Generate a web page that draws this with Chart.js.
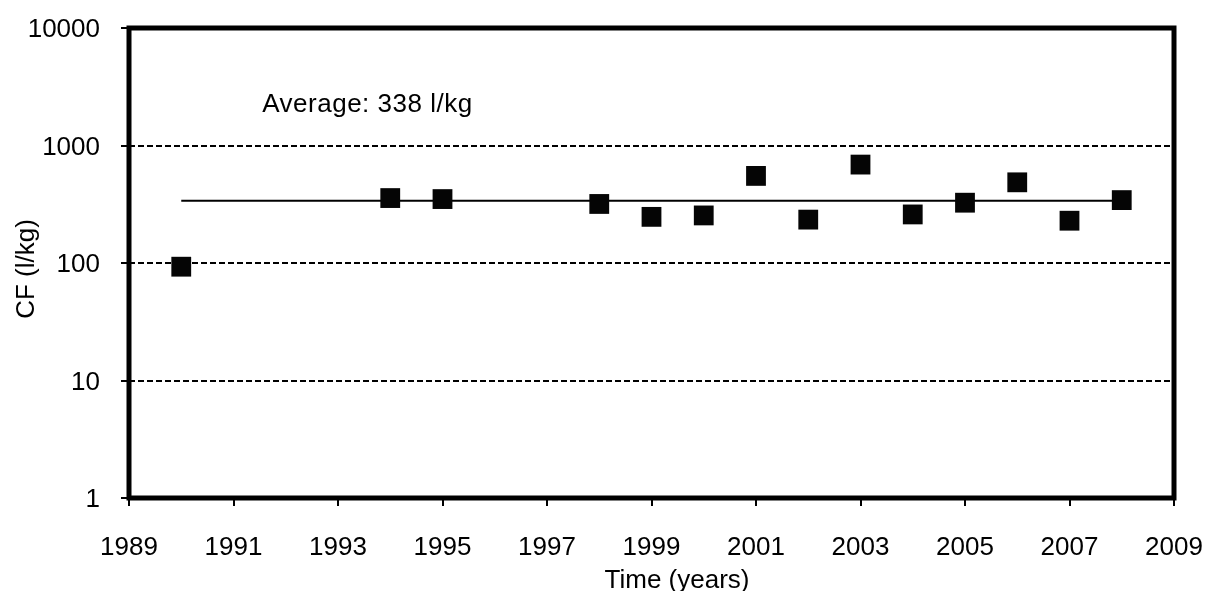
<!DOCTYPE html>
<html lang="en">
<head>
    <meta charset="UTF-8">
    <title>CF over time</title>
    <script src="https://cdn.jsdelivr.net/npm/chart.js"></script>
    <style>
        html, body { margin: 0; padding: 0; background: #fff; }
        #wrap { width: 1209px; height: 591px; }
    </style>
</head>
<body>
    <div id="wrap"><canvas id="chartCanvas"></canvas></div>

    <script>
        // data
        const years = [1990, 1994, 1995, 1998, 1999, 2000, 2001, 2002, 2003, 2004, 2005, 2006, 2007, 2008];
        const cfValues = [93, 357, 350, 318, 247, 254, 551, 234, 688, 259, 326, 486, 229, 343];
        const averageValue = 338;
        const averageSpan = [1990, 2008];
        const xTicks = [1989, 1991, 1993, 1995, 1997, 1999, 2001, 2003, 2005, 2007, 2009];
        const yTicks = [1, 10, 100, 1000, 10000];
        const noteText = 'Average: 338 l/kg';
        const notePos = { x: 1991.55, y: 2200 };
        const xTitle = 'Time (years)';
        const yTitle = 'CF (l/kg)';

        const font = "'Liberation Sans', Arial, sans-serif";

        // box around the plot, the average note and both axis titles
        const frameAndNote = {
            id: 'frameAndNote',
            afterDatasetsDraw(chart) {
                const { ctx, chartArea: a, scales } = chart;
                ctx.save();
                ctx.strokeStyle = '#000';
                ctx.lineWidth = 5;
                ctx.strokeRect(a.left, a.top, a.right - a.left, a.bottom - a.top);

                ctx.fillStyle = '#000';
                ctx.font = '26px ' + font;
                ctx.textBaseline = 'middle';
                ctx.letterSpacing = '0.5px';
                ctx.fillText(noteText, scales.x.getPixelForValue(notePos.x), scales.y.getPixelForValue(notePos.y));
                ctx.letterSpacing = '0px';

                ctx.textAlign = 'center';
                ctx.fillText(xTitle, 677, 581);

                ctx.translate(27, 269);
                ctx.rotate(-Math.PI / 2);
                ctx.fillText(yTitle, 0, 0);
                ctx.restore();
            }
        };

        const ctx = document.getElementById('chartCanvas').getContext('2d');
        const chart = new Chart(ctx, {
            type: 'scatter',
            data: {
                datasets: [{
                    label: 'CF',
                    data: years.map((y, i) => ({ x: y, y: cfValues[i] })),
                    pointStyle: 'rect',
                    pointRadius: 14,
                    pointHoverRadius: 14,
                    backgroundColor: '#050505',
                    borderColor: '#050505',
                    borderWidth: 0,
                    order: 0
                }, {
                    type: 'line',
                    label: 'Average',
                    data: averageSpan.map(x => ({ x: x, y: averageValue })),
                    borderColor: '#000',
                    borderWidth: 2,
                    pointRadius: 0,
                    fill: false,
                    order: 1
                }]
            },
            options: {
                responsive: true,
                maintainAspectRatio: false,
                animation: false,
                layout: { padding: { top: 28, right: 35, left: 0, bottom: 0 } },
                plugins: {
                    legend: { display: false },
                    tooltip: { enabled: false }
                },
                scales: {
                    x: {
                        type: 'linear',
                        min: 1989,
                        max: 2009,
                        afterBuildTicks: axis => { axis.ticks = xTicks.map(v => ({ value: v })); },
                        afterFit: axis => {
                            axis.height = 93;
                            axis.paddingLeft = 0;
                            axis.paddingRight = 0;
                        },
                        ticks: {
                            color: '#000',
                            font: { family: font, size: 26 },
                            padding: 26,
                            maxRotation: 0,
                            callback: v => String(v)
                        },
                        grid: {
                            drawOnChartArea: false,
                            drawTicks: true,
                            tickLength: 8,
                            color: '#000',
                            lineWidth: 2
                        },
                        border: { display: false }
                    },
                    y: {
                        type: 'logarithmic',
                        min: 1,
                        max: 10000,
                        afterBuildTicks: axis => { axis.ticks = yTicks.map(v => ({ value: v })); },
                        afterFit: axis => {
                            axis.width = 129;
                            axis.paddingTop = 0;
                            axis.paddingBottom = 0;
                        },
                        ticks: {
                            color: '#000',
                            font: { family: font, size: 26 },
                            padding: 21,
                            labelOffset: 2,
                            callback: v => String(v)
                        },
                        grid: {
                            color: '#000',
                            lineWidth: 2,
                            tickLength: 8,
                            drawTicks: true
                        },
                        border: { display: false, dash: [6, 3] }
                    }
                }
            },
            plugins: [frameAndNote]
        });
    </script>
</body>
</html>
